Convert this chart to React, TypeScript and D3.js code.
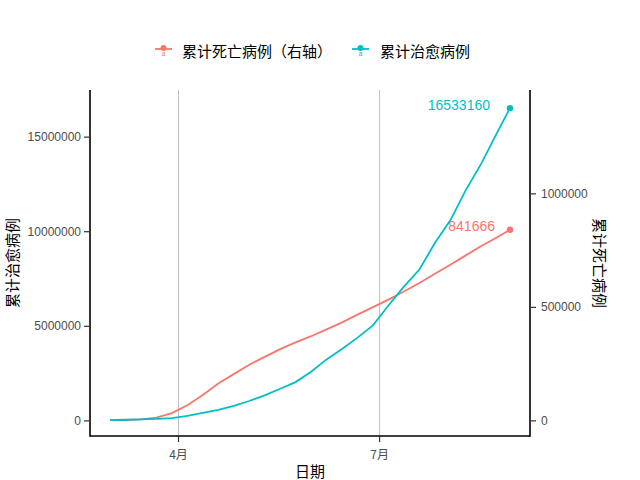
import React from "react";
import * as d3 from "d3";

const dates = [
  "2020-03-01", "2020-03-08", "2020-03-15", "2020-03-22", "2020-03-29",
  "2020-04-05", "2020-04-12", "2020-04-19", "2020-04-26", "2020-05-03",
  "2020-05-10", "2020-05-17", "2020-05-24", "2020-05-31", "2020-06-07",
  "2020-06-14", "2020-06-21", "2020-06-28", "2020-07-05", "2020-07-12",
  "2020-07-19", "2020-07-26", "2020-08-02", "2020-08-09", "2020-08-16",
  "2020-08-23", "2020-08-29",
];
const deaths = [
  3000, 3800, 6500, 14600, 34000,
  69000, 114000, 165000, 206000, 247000,
  282000, 316000, 346000, 373000, 403000,
  434000, 468000, 501000, 534000, 570000,
  607000, 648000, 688000, 729000, 770000,
  808000, 841666,
];
const recovered = [
  42700, 60000, 78000, 100000, 150000,
  265000, 420000, 580000, 790000, 1050000,
  1350000, 1700000, 2050000, 2600000, 3250000,
  3800000, 4400000, 5050000, 6100000, 7100000,
  8000000, 9400000, 10600000, 12200000, 13600000,
  15200000, 16533160,
];
const xTickDates = ["2020-04-01", "2020-07-01"];
const xTickLabels = ["4月", "7月"];
const leftTicks = [0, 5000000, 10000000, 15000000];
const rightTicks = [0, 500000, 1000000];
const legendLabels = ["累计死亡病例（右轴）", "累计治愈病例"];
const axisTitles = { x: "日期", left: "累计治愈病例", right: "累计死亡病例" };
const secRatio = 12;

const RED = "#F8766D";
const CYAN = "#00BFC4";
const LATIN = "'Liberation Sans', Arial, sans-serif";
const CJK = "'Noto Sans CJK SC', 'Liberation Sans', sans-serif";

export default function App() {
  const W = 640, H = 480;
  const L = 90, R = 530, T = 92.5, B = 436.5;
  const axisTop = 90, axisBottom = 436;
  const parse = d3.timeParse("%Y-%m-%d");
  const ds = dates.map((d) => parse(d) as Date);
  const t0 = +ds[0], t1 = +ds[ds.length - 1];
  const span = t1 - t0;
  const x = d3.scaleTime().domain([new Date(t0 - 0.05 * span), new Date(t1 + 0.05 * span)]).range([L, R]);
  const maxL = d3.max(recovered) as number;
  const yL = d3.scaleLinear().domain([-0.05 * maxL, 1.05 * maxL]).range([B, T]);
  const yR = d3.scaleLinear().domain([-0.05 * maxL / secRatio, 1.05 * maxL / secRatio]).range([B, T]);

  const lineD = d3.line<number>().x((_, i) => x(ds[i])).y((v) => yR(v))(deaths) || "";
  const lineR = d3.line<number>().x((_, i) => x(ds[i])).y((v) => yL(v))(recovered) || "";
  const n = ds.length - 1;
  const endX = x(ds[n]);

  const legendY = 49;
  return (
    <svg width={W} height={H} style={{ position: "absolute", left: 0, top: 0, background: "#fff" }}>
      <rect x={0} y={0} width={W} height={H} fill="#fff" />
      {xTickDates.map((d, i) => (
        <line key={"g" + i} x1={x(parse(d) as Date)} x2={x(parse(d) as Date)} y1={axisTop} y2={axisBottom} stroke="#BEBEBE" strokeWidth={1} />
      ))}
      <path d={lineD} fill="none" stroke={RED} strokeWidth={1.8} />
      <path d={lineR} fill="none" stroke={CYAN} strokeWidth={1.8} />
      <circle cx={endX} cy={yR(deaths[n])} r={3.2} fill={RED} />
      <circle cx={endX} cy={yL(recovered[n])} r={3.2} fill={CYAN} />
      <text x={endX - 15} y={yR(deaths[n]) - 4} textAnchor="end" dominantBaseline="central" fontFamily={LATIN} fontSize={14} fill={RED}>
        {deaths[n]}
      </text>
      <text x={endX - 20} y={yL(recovered[n]) - 3} textAnchor="end" dominantBaseline="central" fontFamily={LATIN} fontSize={14} fill={CYAN}>
        {recovered[n]}
      </text>

      {/* axes */}
      <line x1={L} x2={L} y1={axisTop} y2={axisBottom + 0.8} stroke="#000" strokeWidth={1.6} />
      <line x1={R} x2={R} y1={axisTop} y2={axisBottom + 0.8} stroke="#000" strokeWidth={1.6} />
      <line x1={L} x2={R} y1={axisBottom} y2={axisBottom} stroke="#000" strokeWidth={1.6} />
      {leftTicks.map((v) => (
        <g key={"l" + v}>
          <line x1={L - 6} x2={L} y1={yL(v)} y2={yL(v)} stroke="#333" strokeWidth={1.2} />
          <text x={L - 9} y={yL(v)} textAnchor="end" dominantBaseline="central" fontFamily={LATIN} fontSize={12} fill="#4D4D4D">
            {v}
          </text>
        </g>
      ))}
      {rightTicks.map((v) => (
        <g key={"r" + v}>
          <line x1={R} x2={R + 6} y1={yR(v)} y2={yR(v)} stroke="#333" strokeWidth={1.2} />
          <text x={R + 11} y={yR(v)} textAnchor="start" dominantBaseline="central" fontFamily={LATIN} fontSize={12} fill="#4D4D4D">
            {v}
          </text>
        </g>
      ))}
      {xTickDates.map((d, i) => (
        <g key={"x" + i}>
          <line x1={x(parse(d) as Date)} x2={x(parse(d) as Date)} y1={axisBottom} y2={axisBottom + 6} stroke="#333" strokeWidth={1.2} />
          <text x={x(parse(d) as Date)} y={axisBottom + 17} textAnchor="middle" dominantBaseline="central" fontFamily={CJK} fontSize={12} fill="#4D4D4D">
            {xTickLabels[i]}
          </text>
        </g>
      ))}
      <text x={(L + R) / 2} y={470} textAnchor="middle" dominantBaseline="central" fontFamily={CJK} fontSize={15} fill="#000">
        {axisTitles.x}
      </text>
      <text transform={`translate(11,${(axisTop + axisBottom) / 2}) rotate(-90)`} textAnchor="middle" dominantBaseline="central" fontFamily={CJK} fontSize={15} fill="#000">
        {axisTitles.left}
      </text>
      <text transform={`translate(600,${(axisTop + axisBottom) / 2}) rotate(90)`} textAnchor="middle" dominantBaseline="central" fontFamily={CJK} fontSize={15} fill="#000">
        {axisTitles.right}
      </text>

      {/* legend */}
      {[{ c: RED, kx: 155, tx: 182 }, { c: CYAN, kx: 352, tx: 380 }].map((it, i) => (
        <g key={"lg" + i}>
          <line x1={it.kx} x2={it.kx + 17} y1={legendY} y2={legendY} stroke={it.c} strokeWidth={1.8} />
          <circle cx={it.kx + 8.5} cy={legendY - 1} r={3} fill={it.c} />
          <text x={it.kx + 8.5} y={legendY + 4} textAnchor="middle" dominantBaseline="central" fontFamily={LATIN} fontSize={7} fill={it.c}>
            a
          </text>
          <text x={it.tx} y={legendY + 1} textAnchor="start" dominantBaseline="central" fontFamily={CJK} fontSize={15} fill="#000">
            {legendLabels[i]}
          </text>
        </g>
      ))}
    </svg>
  );
}
